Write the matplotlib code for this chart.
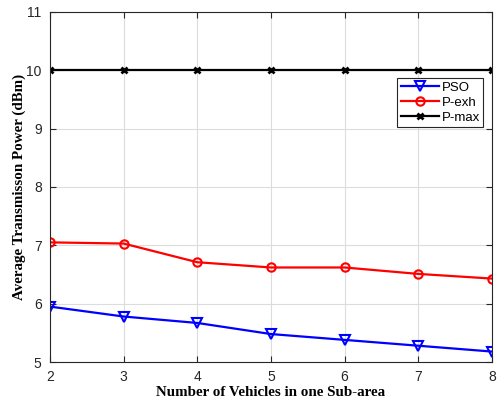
import matplotlib.pyplot as plt

vehicles = [2, 3, 4, 5, 6, 7, 8]
pso = [5.95, 5.78, 5.67, 5.48, 5.38, 5.28, 5.18]
p_exh = [7.05, 7.03, 6.71, 6.62, 6.62, 6.51, 6.43]
p_max = [10, 10, 10, 10, 10, 10, 10]

fig = plt.figure(figsize=(5.01, 4.05), dpi=100)
ax = fig.add_axes([0.0998, 0.106, 0.882, 0.865])

ax.plot(vehicles, pso, color='#0000ff', marker='v', markersize=6.5,
        markerfacecolor='none', markeredgewidth=1.5, linewidth=1.6, label='PSO')
ax.plot(vehicles, p_exh, color='#ff0000', marker='o', markersize=6,
        markerfacecolor='none', markeredgewidth=1.5, linewidth=1.6, label='P-exh')
ax.plot(vehicles, p_max, color='black', marker='x', markersize=4.5,
        markeredgewidth=2, linewidth=1.6, label='P-max')

ax.set_xlim(2, 8)
ax.set_ylim(5, 11)
ax.set_xticks(vehicles)
ax.set_yticks(range(5, 12))
ax.grid(True, color='#dcdcdc', linewidth=0.8)
ax.set_axisbelow(True)
ax.tick_params(direction='in', top=True, right=True, labelsize=10,
               colors='#262626', length=4, pad=6)
for s in ax.spines.values():
    s.set_color('#262626')
    s.set_linewidth(0.8)
for t in ax.get_xticklabels() + ax.get_yticklabels():
    t.set_fontfamily('Liberation Sans')

ax.set_xlabel('Number of Vehicles in one Sub-area', fontfamily='Liberation Serif',
              fontweight='bold', fontsize=10.8, labelpad=1)
ax.set_ylabel('Average Transmisson Power (dBm)', fontfamily='Liberation Serif',
              fontweight='bold', fontsize=10.8, labelpad=0)

leg = ax.legend(loc='upper right', bbox_to_anchor=(0.98, 0.81),
                prop={'family': 'Liberation Sans', 'size': 9.5},
                fancybox=False, edgecolor='#262626', framealpha=1,
                borderpad=0.25, labelspacing=0.2, handlelength=2.9,
                handletextpad=0.2, borderaxespad=0)
leg.get_frame().set_linewidth(0.8)

fig.savefig('out.png', dpi=100)
